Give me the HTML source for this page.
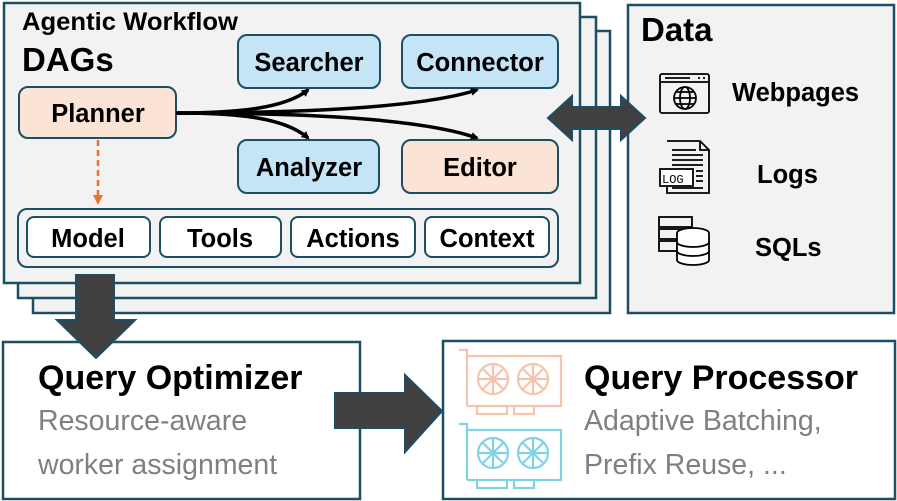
<!DOCTYPE html>
<html><head><meta charset="utf-8"><style>
body{margin:0;background:#fff}
svg{display:block;font-family:"Liberation Sans",Arial,sans-serif}
</style></head><body>
<svg width="897" height="501" viewBox="0 0 897 501" xmlns="http://www.w3.org/2000/svg">
<defs>
<marker id="ah" markerWidth="8" markerHeight="8" refX="6" refY="4" orient="auto" markerUnits="userSpaceOnUse"><path d="M0,0 L8,4 L0,8 z" fill="#000"/></marker>
<marker id="oh" markerWidth="10" markerHeight="10" refX="5" refY="5" orient="auto" markerUnits="userSpaceOnUse"><path d="M0,0 L10,5 L0,10 z" fill="#e8742f"/></marker>
<g id="gpu" fill="none" stroke-width="2.2">
<path d="M0,2 h8 v56 M8,8 h94 v50 h-94 M18,58 v8 h30 v-8 M55,58 v8 h20 v-8"/>
<circle cx="34" cy="31" r="15"/><circle cx="74" cy="31" r="15"/>
<path d="M34,16 v30 M19,31 h30 M23,20 l22,22 M45,20 l-22,22 M74,16 v30 M59,31 h30 M63,20 l22,22 M85,20 l-22,22"/>
</g>
</defs>
<g stroke="#1d4e63" stroke-width="2.5" fill="#f2f2f2">
<rect x="33" y="31" width="577" height="282"/>
<rect x="18" y="17" width="578" height="281"/>
<rect x="4" y="3" width="576" height="280"/>
<rect x="628" y="5" width="266" height="308"/>
<rect x="3" y="342" width="357" height="157" fill="#fff"/>
<rect x="443" y="341" width="452" height="158" fill="#fff"/>
</g>
<text x="22" y="30" font-size="25" font-weight="bold" textLength="216" lengthAdjust="spacingAndGlyphs">Agentic Workflow</text>
<text x="22" y="71" font-size="33" font-weight="bold">DAGs</text>
<g stroke="#1d4e63" stroke-width="2">
<rect x="19" y="87" width="157" height="51" rx="9" fill="#fbe3d6"/>
<rect x="238" y="35" width="142" height="53" rx="9" fill="#c4e5f5"/>
<rect x="402" y="35" width="156" height="53" rx="9" fill="#c4e5f5"/>
<rect x="238" y="140" width="141" height="53" rx="9" fill="#c4e5f5"/>
<rect x="402" y="140" width="156" height="53" rx="9" fill="#fbe3d6"/>
<rect x="18" y="209" width="540" height="58" rx="9" fill="none"/>
<rect x="27" y="217" width="123" height="40" rx="7" fill="#fff"/>
<rect x="160" y="217" width="121" height="40" rx="7" fill="#fff"/>
<rect x="291" y="217" width="124" height="40" rx="7" fill="#fff"/>
<rect x="425" y="217" width="124" height="40" rx="7" fill="#fff"/>
</g>
<g font-size="25.5" font-weight="bold" text-anchor="middle">
<text x="98" y="122">Planner</text>
<text x="309" y="71">Searcher</text>
<text x="480" y="71">Connector</text>
<text x="309" y="176">Analyzer</text>
<text x="480" y="176">Editor</text>
<text x="88" y="247">Model</text>
<text x="220" y="247">Tools</text>
<text x="353" y="247">Actions</text>
<text x="487" y="247">Context</text>
</g>
<g fill="none" stroke="#000" stroke-width="3.5">
<path d="M176,113 C240,113 285,108 308,90" marker-end="url(#ah)"/>
<path d="M176,113 C300,113 420,108 477,90" marker-end="url(#ah)"/>
<path d="M176,113 C240,113 285,118 308,138" marker-end="url(#ah)"/>
<path d="M176,113 C300,113 420,118 477,138" marker-end="url(#ah)"/>
</g>
<path d="M98,140 V200" stroke="#e8742f" stroke-width="2.5" stroke-dasharray="6,4" fill="none" marker-end="url(#oh)"/>
<g fill="#404040" stroke="#1d4e63" stroke-width="2">
<path d="M548,118 L572,96 V107 H621 V96 L645,118 L621,140 V129 H572 V140 Z"/>
<path d="M76,275 H114 V320 H135 L96,358 L57,320 H76 Z"/>
<path d="M335,393 H405 V375 L442,411 L405,452 V428 H335 Z"/>
</g>
<text x="641" y="41" font-size="33" font-weight="bold">Data</text>
<g font-size="25.5" font-weight="bold">
<text x="732" y="101">Webpages</text>
<text x="757" y="183">Logs</text>
<text x="755" y="256">SQLs</text>
</g>
<g fill="none" stroke="#000" stroke-width="1.8">
<rect x="660" y="74" width="49" height="39" rx="2"/><path d="M660,82 H709 M665,78 H690 M698,78 h2 M703,78 h2"/>
<circle cx="685" cy="98" r="11"/><ellipse cx="685" cy="98" rx="5" ry="11"/><path d="M674,98 H696 M676,92 H694 M676,104 H694"/>
<path d="M667,141 H700 L709,150 V193 H667 V186 M700,141 V150 H709 M672,150 H696 M672,155 H703 M672,160 H703 M672,165 H703 M696,171 H703 M696,176 H703 M696,181 H703 M672,188 H703"/>
<rect x="660" y="169" width="33" height="17" fill="#fff"/>
<rect x="659" y="217" width="33" height="10"/><rect x="659" y="229" width="33" height="10"/><rect x="659" y="241" width="33" height="10"/>
<ellipse cx="693" cy="233" rx="16" ry="5" fill="#fff"/><path d="M677,233 V260 A16,5 0 0 0 709,260 V233 M677,242 A16,5 0 0 0 709,242 M677,251 A16,5 0 0 0 709,251" fill="#fff"/>
</g>
<text x="662" y="183" font-size="12" font-family="Liberation Mono,monospace">LOG</text>
<text x="38" y="389" font-size="34" font-weight="bold">Query Optimizer</text>
<text x="38" y="430" font-size="28.5" fill="#808080">Resource-aware</text>
<text x="38" y="474" font-size="28.5" fill="#808080">worker assignment</text>
<text x="584" y="389" font-size="34" font-weight="bold">Query Processor</text>
<text x="584" y="430" font-size="28.5" fill="#808080">Adaptive Batching,</text>
<text x="584" y="474" font-size="28.5" fill="#808080">Prefix Reuse, ...</text>
<use href="#gpu" x="459" y="348" stroke="#f5c4ac"/>
<use href="#gpu" x="459" y="422" stroke="#7fd3e3"/>
</svg>
</body></html>
